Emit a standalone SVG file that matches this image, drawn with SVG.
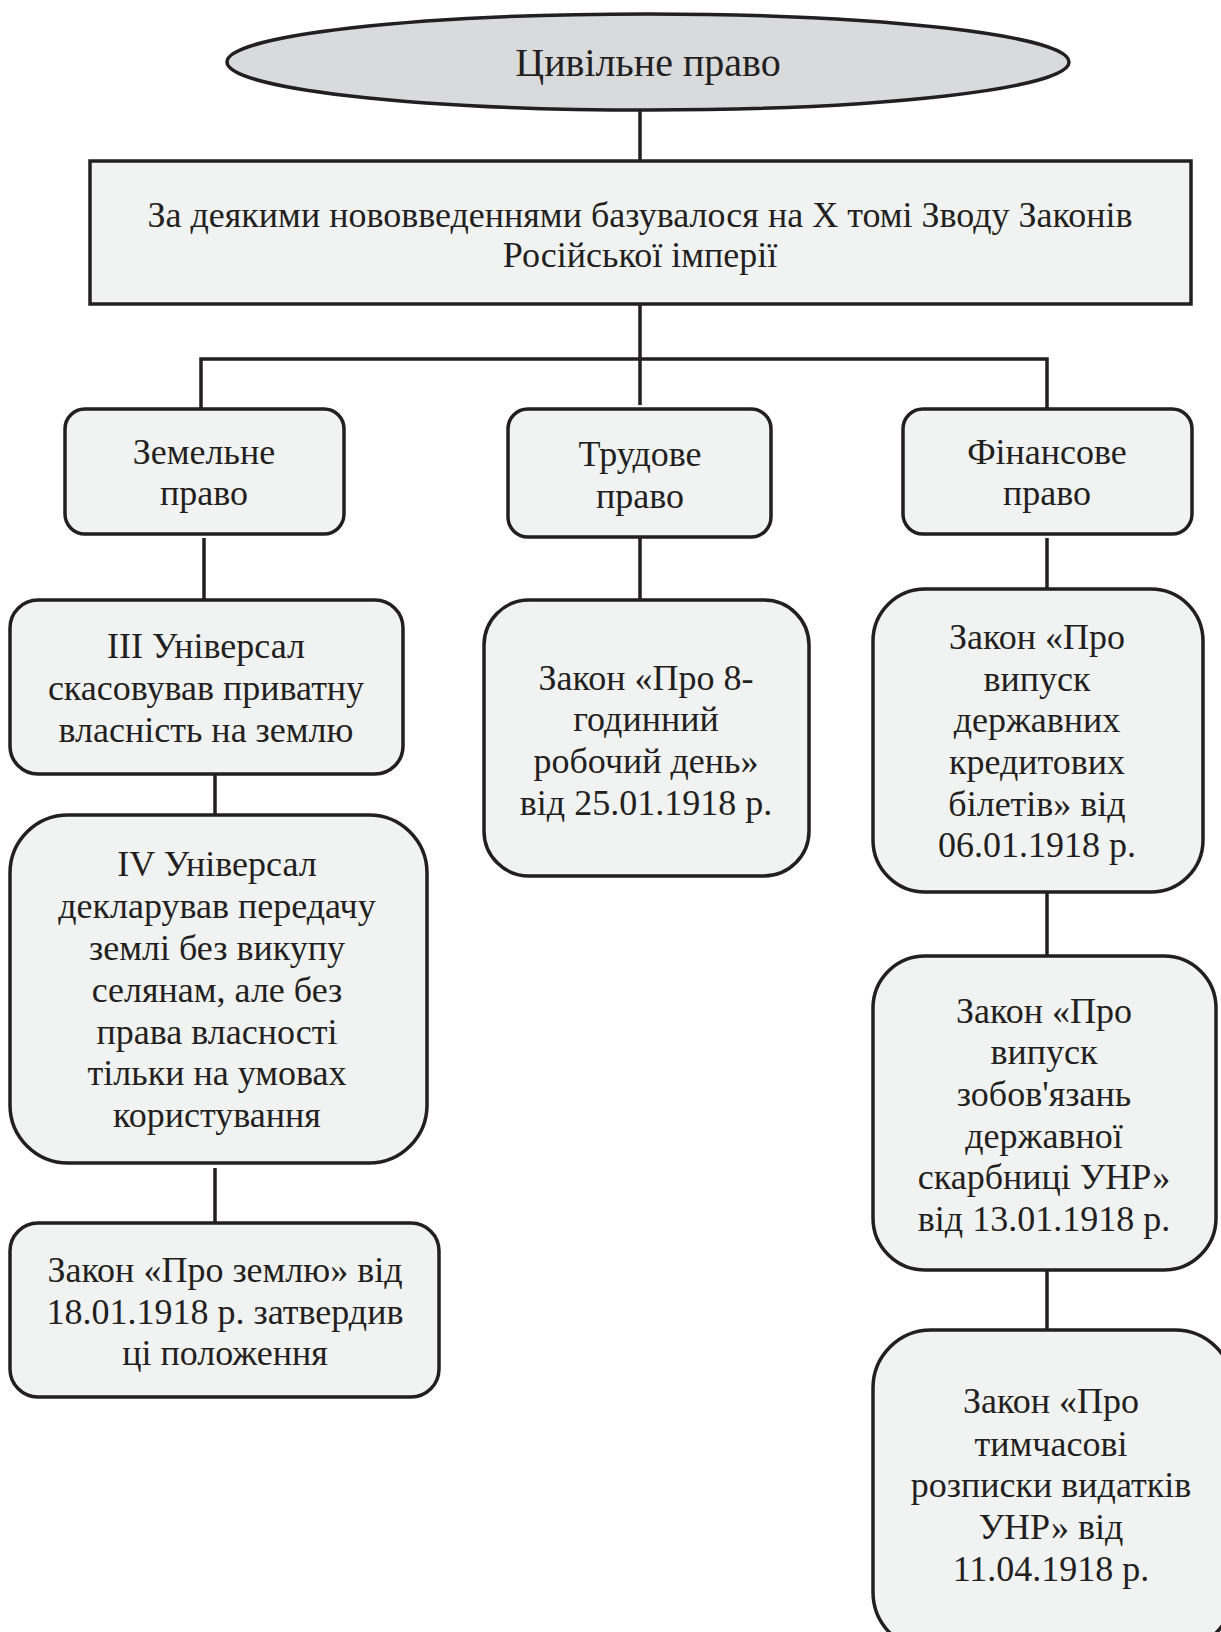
<svg xmlns="http://www.w3.org/2000/svg" width="1221" height="1632" viewBox="0 0 1221 1632">
<style>
.n{fill:#f1f3f2;stroke:#231f20;stroke-width:3.5}
.e{fill:#d9dadc;stroke:#231f20;stroke-width:3.5}
.c{fill:none;stroke:#231f20;stroke-width:3.5}
</style>
<rect width="1221" height="1632" fill="#ffffff"/>
<g id="connectors">
<path class="c" d="M640 111 V161"/>
<path class="c" d="M640 304 V405"/>
<path class="c" d="M201 409 V359 H1047 V411"/>
<path class="c" d="M204 538 V600"/>
<path class="c" d="M640 538 V600"/>
<path class="c" d="M1047 538 V589"/>
<path class="c" d="M215 774 V815"/>
<path class="c" d="M215 1168 V1223"/>
<path class="c" d="M1047 892 V956"/>
<path class="c" d="M1047 1270 V1330"/>
</g>
<g font-family="'Times New Roman', 'Liberation Serif', serif" font-size="36" fill="#231f20" text-anchor="middle">
<g id="root">
<ellipse class="e" cx="648" cy="62" rx="421" ry="48"/>
<text x="648" y="76" font-size="40">Цивільне право</text>
</g>
<g id="basis">
<rect class="n" x="90" y="161" width="1101" height="143"/>
<text x="640" y="227">За деякими нововведеннями базувалося на Х томі Зводу Законів</text>
<text x="640" y="267">Російської імперії</text>
</g>
<g id="land">
<rect class="n" x="65" y="409" width="279" height="125" rx="20"/>
<text x="204" y="464">Земельне</text>
<text x="204" y="505">право</text>
</g>
<g id="labour">
<rect class="n" x="508" y="409" width="263" height="128" rx="20"/>
<text x="640" y="466">Трудове</text>
<text x="640" y="508">право</text>
</g>
<g id="finance">
<rect class="n" x="903" y="409" width="289" height="125" rx="20"/>
<text x="1047" y="464">Фінансове</text>
<text x="1047" y="505">право</text>
</g>
<g id="univ3">
<rect class="n" x="10" y="600" width="393" height="174" rx="28"/>
<text x="206" y="658">ІІІ Універсал</text>
<text x="206" y="700">скасовував приватну</text>
<text x="206" y="742">власність на землю</text>
</g>
<g id="univ4">
<rect class="n" x="10" y="815" width="417" height="348" rx="58"/>
<text x="217" y="876">IV Універсал</text>
<text x="217" y="918">декларував передачу</text>
<text x="217" y="960">землі без викупу</text>
<text x="217" y="1002">селянам, але без</text>
<text x="217" y="1044">права власності</text>
<text x="217" y="1085">тільки на умовах</text>
<text x="217" y="1127">користування</text>
</g>
<g id="landlaw">
<rect class="n" x="10" y="1223" width="429" height="174" rx="28"/>
<text x="225" y="1282">Закон «Про землю» від</text>
<text x="225" y="1324">18.01.1918 р. затвердив</text>
<text x="225" y="1365">ці положення</text>
</g>
<g id="workday">
<rect class="n" x="484" y="600" width="325" height="276" rx="45"/>
<text x="646" y="690">Закон «Про 8-</text>
<text x="646" y="731">годинний</text>
<text x="646" y="773">робочий день»</text>
<text x="646" y="815">від 25.01.1918 р.</text>
</g>
<g id="credit">
<rect class="n" x="873" y="589" width="330" height="303" rx="52"/>
<text x="1037" y="649">Закон «Про</text>
<text x="1037" y="691">випуск</text>
<text x="1037" y="732">державних</text>
<text x="1037" y="774">кредитових</text>
<text x="1037" y="816">білетів» від</text>
<text x="1037" y="857">06.01.1918 р.</text>
</g>
<g id="treasury">
<rect class="n" x="873" y="956" width="343" height="314" rx="52"/>
<text x="1044" y="1023">Закон «Про</text>
<text x="1044" y="1064">випуск</text>
<text x="1044" y="1106">зобов'язань</text>
<text x="1044" y="1148">державної</text>
<text x="1044" y="1189">скарбниці УНР»</text>
<text x="1044" y="1231">від 13.01.1918 р.</text>
</g>
<g id="receipts">
<rect class="n" x="873" y="1330" width="360" height="320" rx="58"/>
<text x="1051" y="1413">Закон «Про</text>
<text x="1051" y="1456">тимчасові</text>
<text x="1051" y="1497">розписки видатків</text>
<text x="1051" y="1539">УНР» від</text>
<text x="1051" y="1581">11.04.1918 р.</text>
</g>
</g>
</svg>
